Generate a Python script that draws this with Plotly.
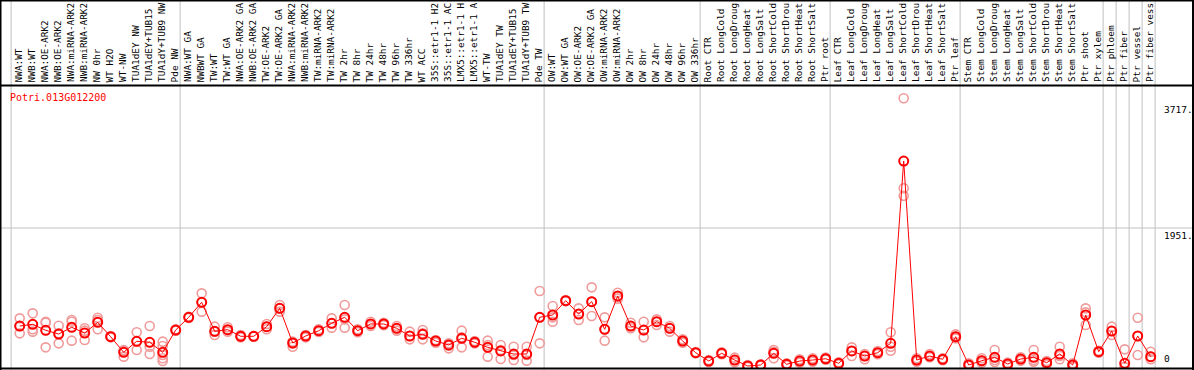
import plotly.graph_objects as go

gene_id = "Potri.013G012200"

categories = [
    "NWA:WT", "NWB:WT", "NWA:OE-ARK2", "NWB:OE-ARK2", "NWA:miRNA-ARK2", "NWB:miRNA-ARK2",
    "NW 0hr", "WT H2O", "WT-NW", "TUA1dEY NW", "TUA1dEY+TUB15 NW", "TUA1dY+TUB9 NW", "Pde NW",
    "NWA:WT GA", "NWBWT GA", "TW:WT", "TW:WT GA", "NWA:OE-ARK2 GA", "NWB:OE-ARK2 GA",
    "TW:OE-ARK2", "TW:OE-ARK2 GA", "NWA:miRNA-ARK2 GA", "NWB:miRNA-ARK2 GA", "TW:miRNA-ARK2",
    "TW:miRNA-ARK2 GA", "TW 2hr", "TW 8hr", "TW 24hr", "TW 48hr", "TW 96hr", "TW 336hr",
    "WT ACC", "35S::etr1-1 H2O", "35S::etr1-1 ACC", "LMX5::etr1-1 H2O", "LMX5::etr1-1 ACC",
    "WT-TW", "TUA1dEY TW", "TUA1dEY+TUB15 TW", "TUA1dY+TUB9 TW", "Pde TW",
    "OW:WT", "OW:WT GA", "OW:OE-ARK2", "OW:OE-ARK2 GA", "OW:miRNA-ARK2", "OW:miRNA-ARK2 GA",
    "OW 2hr", "OW 8hr", "OW 24hr", "OW 48hr", "OW 96hr", "OW 336hr",
    "Root CTR", "Root LongCold", "Root LongDrought", "Root LongHeat", "Root LongSalt",
    "Root ShortCold", "Root ShortDrought", "Root ShortHeat", "Root ShortSalt", "Ptr root",
    "Leaf CTR", "Leaf LongCold", "Leaf LongDrought", "Leaf LongHeat", "Leaf LongSalt",
    "Leaf ShortCold", "Leaf ShortDrought", "Leaf ShortHeat", "Leaf ShortSalt", "Ptr leaf",
    "Stem CTR", "Stem LongCold", "Stem LongDrought", "Stem LongHeat", "Stem LongSalt",
    "Stem ShortCold", "Stem ShortDrought", "Stem ShortHeat", "Stem ShortSalt",
    "Ptr shoot", "Ptr xylem", "Ptr phloem", "Ptr fiber", "Ptr vessel", "Ptr fiber vessel",
]

mean_values = [
    575, 599, 515, 463, 557, 477, 627, 425, 206, 361,
    347, 206, 519, 698, 908, 501, 524, 431, 431, 566,
    824, 337, 435, 509, 613, 698, 509, 604, 604, 543,
    435, 459, 365, 309, 403, 347, 276, 225, 182, 182,
    698, 730, 931, 744, 917, 529, 997, 575, 519, 636,
    543, 365, 201, 84, 192, 98, 14, 28, 192, 38,
    84, 98, 116, 52, 225, 154, 201, 333, 2891, 98,
    154, 108, 425, 28, 88, 136, 42, 112, 136, 60,
    182, 28, 730, 215, 505, 52, 435, 145,
]

replicates = [
    [683, 575, 472], [753, 529, 496], [636, 622, 276], [580, 472, 332], [660, 636, 370],
    [543, 510, 379], [692, 660, 529], [435, 426, 416], [239, 225, 145], [487, 360, 239],
    [575, 285, 182], [356, 295, 168, 122, 84], [529, 519, 510], [706, 697, 688], [1034, 908, 777],
    [566, 496, 449], [557, 519, 496], [449, 426, 416], [435, 430, 426], [603, 566, 529],
    [870, 823, 777], [356, 332, 285], [449, 435, 416], [529, 510, 491], [683, 613, 552],
    [870, 669, 552], [529, 510, 487], [636, 603, 575], [622, 603, 585], [575, 543, 510],
    [496, 435, 388], [519, 472, 388], [379, 365, 341], [332, 299, 262], [510, 416, 276],
    [365, 346, 332], [370, 309, 145], [309, 239, 112], [285, 168, 98], [285, 168, 89],
    [1067, 697, 332], [856, 697, 636], [940, 931, 922], [823, 744, 660], [1118, 917, 716],
    [697, 529, 370], [1043, 987, 959], [622, 575, 543], [636, 519, 416], [669, 636, 589],
    [575, 543, 496], [388, 365, 341], [211, 201, 192], [98, 84, 70], [206, 192, 178],
    [131, 98, 65], [28, 14, 0], [37, 28, 19], [239, 215, 122], [51, 37, 23],
    [108, 84, 61], [122, 98, 75], [131, 117, 103], [65, 51, 37], [276, 225, 154],
    [182, 154, 108], [225, 201, 178], [487, 285, 229], [3771, 2508, 2404], [122, 98, 75],
    [182, 154, 136], [122, 108, 94], [458, 426, 402], [51, 28, 14], [122, 89, 61],
    [239, 98, 70], [61, 42, 23], [136, 112, 89], [239, 98, 75], [84, 61, 37],
    [285, 154, 108], [51, 28, 5], [823, 767, 589], [229, 215, 201], [566, 505, 449],
    [248, 0, 0], [692, 435, 168], [215, 145, 108],
]

y_tick_values = [3717, 1951, 0]
y_tick_labels = ["3717.", "1951.", "0"]

# last column index of each separated block (separator drawn after it)
group_ends = [0, 13, 41, 53, 63, 73, 84, 85, 86, 87, 88]

W, H = 1194, 370
TOP, BOT = 86, 2
FONT = "DejaVu Sans Mono"
GRID = "#c0c0c0"

xs = list(range(1, len(categories) + 1))
rep_x, rep_y = [], []
for x, reps in zip(xs, replicates):
    for v in reps:
        rep_x.append(x)
        rep_y.append(v)

fig = go.Figure()
fig.add_trace(go.Scatter(
    x=rep_x, y=rep_y, mode="markers",
    marker=dict(symbol="circle-open", size=9, color="#f09a9a", line=dict(width=1.6)),
    hoverinfo="skip", showlegend=False,
))
fig.add_trace(go.Scatter(
    x=xs, y=mean_values, mode="lines+markers",
    line=dict(color="#ff0000", width=1),
    marker=dict(symbol="circle-open", size=9, color="#ff0000", line=dict(width=2)),
    showlegend=False,
))

px_per_unit = 13.0
x0 = 1 - 19.7 / px_per_unit
x1 = x0 + W / px_per_unit
yscale = 0.07125  # px per value unit
plot_h = H - TOP - BOT
y_lo = -(H - BOT - 367) / yscale
y_hi = y_lo + plot_h / yscale

def ypaper(py):
    return (H - BOT - py) / plot_h

shapes = []
for g in group_ends:
    shapes.append(dict(type="line", xref="x", yref="paper", x0=g + 0.34, x1=g + 0.34,
                       y0=ypaper(H), y1=ypaper(0), line=dict(color=GRID, width=1), layer="below"))
shapes.append(dict(type="line", xref="paper", yref="y", x0=0, x1=1, y0=1951, y1=1951,
                   line=dict(color=GRID, width=1), layer="below"))
blk = dict(color="black", width=2)
shapes += [
    dict(type="line", xref="paper", yref="paper", x0=0, x1=1, y0=ypaper(85.5), y1=ypaper(85.5), line=blk),
    dict(type="line", xref="paper", yref="paper", x0=0, x1=1, y0=ypaper(0.5), y1=ypaper(0.5), line=blk),
    dict(type="line", xref="paper", yref="paper", x0=0, x1=1, y0=ypaper(368.5), y1=ypaper(368.5), line=blk),
    dict(type="line", xref="paper", yref="paper", x0=0.5 / W, x1=0.5 / W, y0=ypaper(0), y1=ypaper(H), line=blk),
    dict(type="line", xref="paper", yref="paper", x0=1193 / W, x1=1193 / W, y0=ypaper(0), y1=ypaper(H), line=blk),
]

annotations = []
for x, name in zip(xs, categories):
    annotations.append(dict(
        x=x - 0.1, xref="x", y=ypaper(84), yref="paper", text=name[:14], showarrow=False,
        textangle=-90, xanchor="center", yanchor="bottom",
        font=dict(family=FONT, size=9.4, color="black"),
    ))
annotations.append(dict(
    x=8 / W, xref="paper", y=ypaper(97), yref="paper", text=gene_id, showarrow=False,
    xanchor="left", yanchor="middle", font=dict(family=FONT, size=10, color="#ff0000"),
))
for v, lab in zip(y_tick_values, y_tick_labels):
    annotations.append(dict(
        x=1162 / W, xref="paper", y=v, yref="y", text=lab, showarrow=False,
        xanchor="left", yanchor="top" if v > 0 else "bottom",
        yshift=0 if v > 0 else 1,
        font=dict(family=FONT, size=9.5, color="black"),
    ))

fig.update_layout(
    width=W, height=H,
    margin=dict(l=0, r=0, t=TOP, b=BOT, pad=0),
    paper_bgcolor="white", plot_bgcolor="white",
    xaxis=dict(range=[x0, x1], visible=False, fixedrange=True),
    yaxis=dict(range=[y_lo, y_hi], visible=False, fixedrange=True),
    shapes=shapes, annotations=annotations,
    font=dict(family=FONT),
)

fig.write_html(
    "out.html",
    config={"displayModeBar": False},
    post_script="document.body.style.margin='0';document.body.style.overflow='hidden';",
)
